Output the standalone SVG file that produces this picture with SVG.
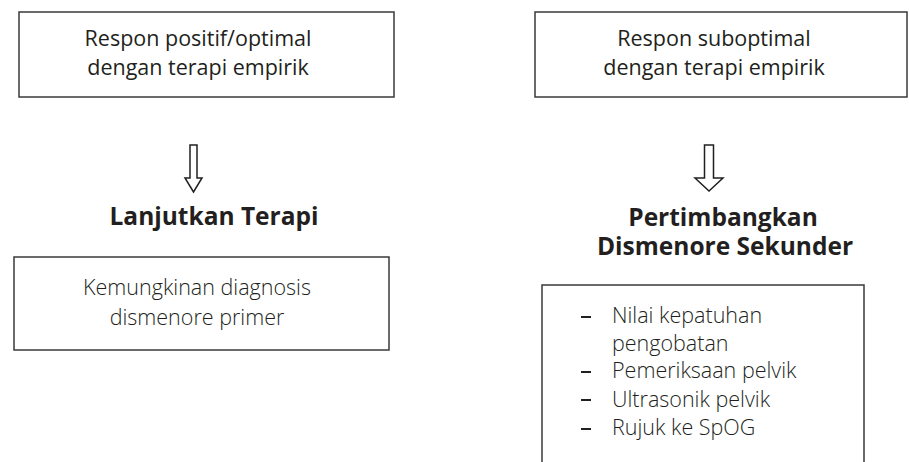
<svg xmlns="http://www.w3.org/2000/svg" width="909" height="462" viewBox="0 0 909 462">
<style>
.box{fill:#fff;stroke:#3a3a3a;stroke-width:1.5}
.t{font-family:"Open Sans","Liberation Sans",sans-serif;font-size:21.5px;fill:#231f20;text-anchor:middle}
.l{font-family:"Open Sans","Liberation Sans",sans-serif;font-weight:300;font-size:21.5px;fill:#231f20}
.h{font-family:"Open Sans","Liberation Sans",sans-serif;font-weight:700;font-size:24.5px;fill:#231f20;text-anchor:middle}
.arr{fill:#fff;stroke:#231f20;stroke-width:1.5;stroke-linejoin:miter}
.dash{stroke:#231f20;stroke-width:2}
</style>
<rect width="909" height="462" fill="#fff"/>
<g id="node-positif">
<rect class="box" x="19" y="12" width="375" height="85"/>
<text class="t" x="198" y="46">Respon positif/optimal</text>
<text class="t" x="198" y="75">dengan terapi empirik</text>
</g>
<g id="node-suboptimal">
<rect class="box" x="535" y="12" width="372" height="85"/>
<text class="t" x="714" y="46">Respon suboptimal</text>
<text class="t" x="714" y="75">dengan terapi empirik</text>
</g>
<g id="connectors">
<path class="arr" d="M190,145 H197 V178 H202 L193.5,192 L185,178 H190 Z"/>
<path class="arr" d="M704.5,145 H713.5 V178 H723 L709,191 L695,178 H704.5 Z"/>
</g>
<g id="node-lanjutkan">
<text class="h" x="214" y="225">Lanjutkan Terapi</text>
</g>
<g id="node-pertimbangkan">
<text class="h" x="723" y="226">Pertimbangkan</text>
<text class="h" x="725" y="255">Dismenore Sekunder</text>
</g>
<g id="node-primer">
<rect class="box" x="14" y="257" width="375" height="93"/>
<text class="l" x="197" y="295" text-anchor="middle">Kemungkinan diagnosis</text>
<text class="l" x="197" y="325" text-anchor="middle">dismenore primer</text>
</g>
<g id="node-sekunder">
<path class="box" d="M542,463 V285 H864 V463"/>
<line class="dash" x1="581" y1="317" x2="591" y2="317"/>
<line class="dash" x1="581" y1="372" x2="591" y2="372"/>
<line class="dash" x1="581" y1="400" x2="591" y2="400"/>
<line class="dash" x1="581" y1="429" x2="591" y2="429"/>
<text class="l" x="612" y="323">Nilai kepatuhan</text>
<text class="l" x="612" y="351">pengobatan</text>
<text class="l" x="612" y="378">Pemeriksaan pelvik</text>
<text class="l" x="612" y="407">Ultrasonik pelvik</text>
<text class="l" x="612" y="435">Rujuk ke SpOG</text>
</g>
</svg>
